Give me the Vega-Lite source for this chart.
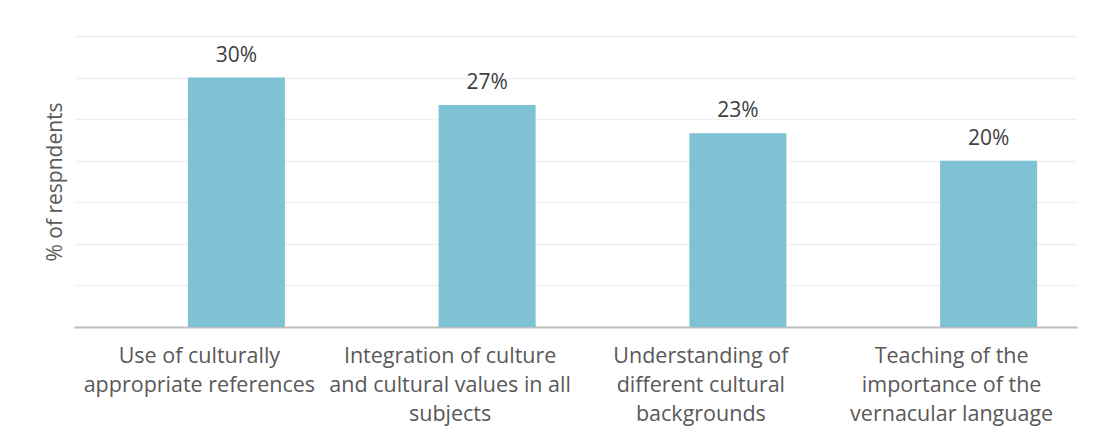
{
  "$schema": "https://vega.github.io/schema/vega-lite/v6.json",
  "autosize": "none",
  "width": 1003,
  "height": 291,
  "padding": {"left": 74, "top": 36, "right": 22, "bottom": 117},
  "background": "white",
  "config": {"view": {"stroke": null}},
  "data": {
    "values": [
      {"category": "Use of culturally\nappropriate references", "value": 30, "label": "30%"},
      {"category": "Integration of culture\nand cultural values in all\nsubjects", "value": 26.7, "label": "27%"},
      {"category": "Understanding of\ndifferent cultural\nbackgrounds", "value": 23.3, "label": "23%"},
      {"category": "Teaching of the\nimportance of the\nvernacular language", "value": 20, "label": "20%"}
    ]
  },
  "encoding": {
    "x": {
      "field": "category", "type": "nominal", "sort": null,
      "scale": {"paddingInner": 0, "paddingOuter": 0},
      "axis": {
        "title": null, "labelAngle": 0, "ticks": false,
        "labelExpr": "split(datum.label, '\\n')",
        "labelFont": "Open Sans", "labelFontSize": 21.5, "labelColor": "#595959",
        "labelLineHeight": 29, "labelPadding": 18, "labelLimit": 400,
        "domainColor": "#bfbfbf", "domainWidth": 2, "grid": false
      }
    },
    "y": {
      "field": "value", "type": "quantitative",
      "scale": {"domain": [0, 35], "nice": false},
      "axis": {
        "title": "% of respndents", "titleFont": "Open Sans", "titleFontSize": 21,
        "titleFontWeight": "normal", "titleColor": "#595959", "titlePadding": 9,
        "labels": false, "ticks": false, "domain": false,
        "values": [0, 5, 10, 15, 20, 25, 30, 35],
        "gridColor": "#efefef", "gridWidth": 1.5
      }
    }
  },
  "layer": [
    {"mark": {"type": "bar", "width": 97, "xOffset": 37, "color": "#7FC2D4"}},
    {"mark": {"type": "text", "xOffset": 37, "dy": -16, "baseline": "alphabetic", "font": "Open Sans", "fontSize": 21, "color": "#404040"},
     "encoding": {"text": {"field": "label"}}}
  ]
}
